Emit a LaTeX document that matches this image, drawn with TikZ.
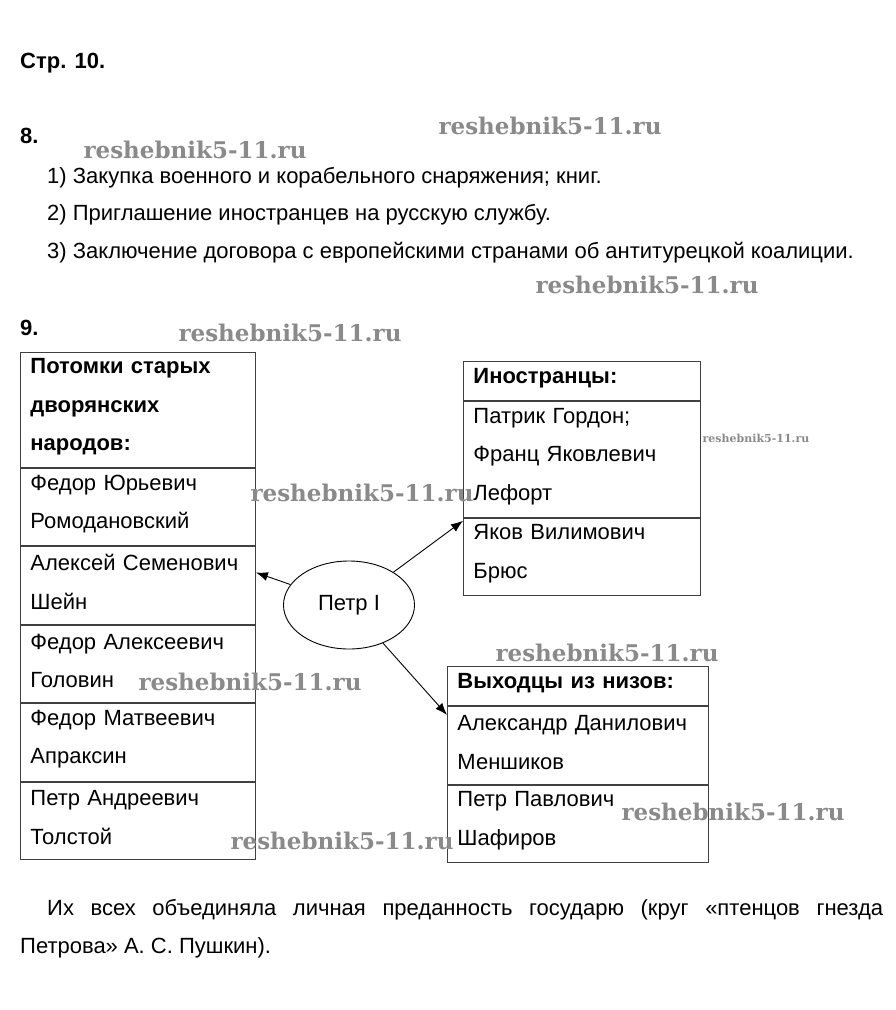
\documentclass[tikz,border=0pt]{standalone}
\usepackage{fontspec}
\setmainfont{Liberation Sans}
\newfontfamily\wmfont{DejaVu Serif}
\usetikzlibrary{positioning,shapes.geometric,arrows.meta}
\definecolor{boxLine}{HTML}{404040}
\definecolor{markGray}{HTML}{8A8A8A}
\newcommand\bodyfont{\fontsize{22}{38.5}\selectfont}
\tikzset{
    txt/.style={anchor=base west, inner sep=0pt, font=\bodyfont},
    txtbold/.style={anchor=base west, inner sep=0pt, font=\bodyfont\bfseries},
    cell/.style={draw=boxLine, line width=0.9pt, anchor=north west, align=left, inner xsep=10pt, inner ysep=0pt, text height=9pt, font=\bodyfont},
    headcell/.style={cell, font=\bodyfont\bfseries},
    petrnode/.style={draw=black, ellipse, line width=0.9pt, minimum width=131pt, minimum height=88pt, inner sep=0pt, font=\bodyfont},
    arr/.style={-{Latex[length=12pt,width=9pt]}, line width=0.9pt},
    wm/.style={text=markGray, inner sep=0pt, font=\wmfont\bfseries\fontsize{23}{23}\selectfont}
}

\begin{document}
\begin{tikzpicture}[x=1pt, y=-1pt]
    \useasboundingbox (0,0) rectangle (895,1010);

    % headings and task 8
    \node[txtbold] (page) at (20,68) {Стр. 10.};
    \node[txtbold] (t8) at (20,143) {8.};
    \node[txt] (i1) at (47,183) {1) Закупка военного и корабельного снаряжения; книг.};
    \node[txt] (i2) at (47,220) {2) Приглашение иностранцев на русскую службу.};
    \node[txt] (i3) at (47,258) {3) Заключение договора с европейскими странами об антитурецкой коалиции.};
    \node[txtbold] (t9) at (20,335) {9.};

    % left table
    \node[headcell, text width=215pt, minimum height=115pt] (l0) at (20,352) {Потомки старых\\дворянских\\народов:};
    \node[cell, text width=215pt, minimum height=77.5pt, below=0pt of l0] (l1) {Федор Юрьевич\\Ромодановский};
    \node[cell, text width=215pt, minimum height=77.5pt, below=0pt of l1] (l2) {Алексей Семенович\\Шейн};
    \node[cell, text width=215pt, minimum height=77.5pt, below=0pt of l2] (l3) {Федор Алексеевич\\Головин};
    \node[cell, text width=215pt, minimum height=77.5pt, below=0pt of l3] (l4) {Федор Матвеевич\\Апраксин};
    \node[cell, text width=215pt, minimum height=77.5pt, below=0pt of l4] (l5) {Петр Андреевич\\Толстой};

    % foreigners
    \node[headcell, text width=217pt, minimum height=39pt] (r0) at (463,361) {Иностранцы:};
    \node[cell, text width=217pt, minimum height=116pt, below=0pt of r0] (r1) {Патрик Гордон;\\Франц Яковлевич\\Лефорт};
    \node[cell, text width=217pt, minimum height=77pt, below=0pt of r1] (r2) {Яков Вилимович\\Брюс};

    % from the lower classes
    \node[headcell, text width=241pt, minimum height=39pt] (b0) at (447,666) {Выходцы из низов:};
    \node[cell, text width=241pt, minimum height=78pt, below=0pt of b0] (b1) {Александр Данилович\\Меншиков};
    \node[cell, text width=241pt, minimum height=77pt, below=0pt of b1] (b2) {Петр Павлович\\Шафиров};

    % centre
    \node[petrnode] (petr) at (349,605) {Петр I};
    \coordinate (inL) at ([yshift=13pt]l2.east);
    \coordinate (inR) at ([yshift=-3pt]r2.north west);
    \coordinate (inB) at ([yshift=-9pt]b1.north west);
    \draw[arr] (petr) -- (inL);
    \draw[arr] (petr) -- (inR);
    \draw[arr] (petr) -- (inB);

    % closing text
    \node[anchor=base west, inner sep=0pt, text width=863pt, align=justify, font=\bodyfont] (summary) at (20,915)
        {\hspace*{27pt}Их всех объединяла личная преданность государю (круг «птенцов гнезда\linebreak Петрова» А. С. Пушкин).};

    % watermarks
    \foreach \p [count=\i] in {(550,126),(195,150),(647,285),(290,333),(362,493),(607,653),(250,682),(733,812),(342,841)}
        \node[wm] (wm\i) at \p {reshebnik5-11.ru};
    \node[wm, font=\wmfont\bfseries\fontsize{11}{11}\selectfont] (wmsmall) at (756,438) {reshebnik5-11.ru};
\end{tikzpicture}
\end{document}
